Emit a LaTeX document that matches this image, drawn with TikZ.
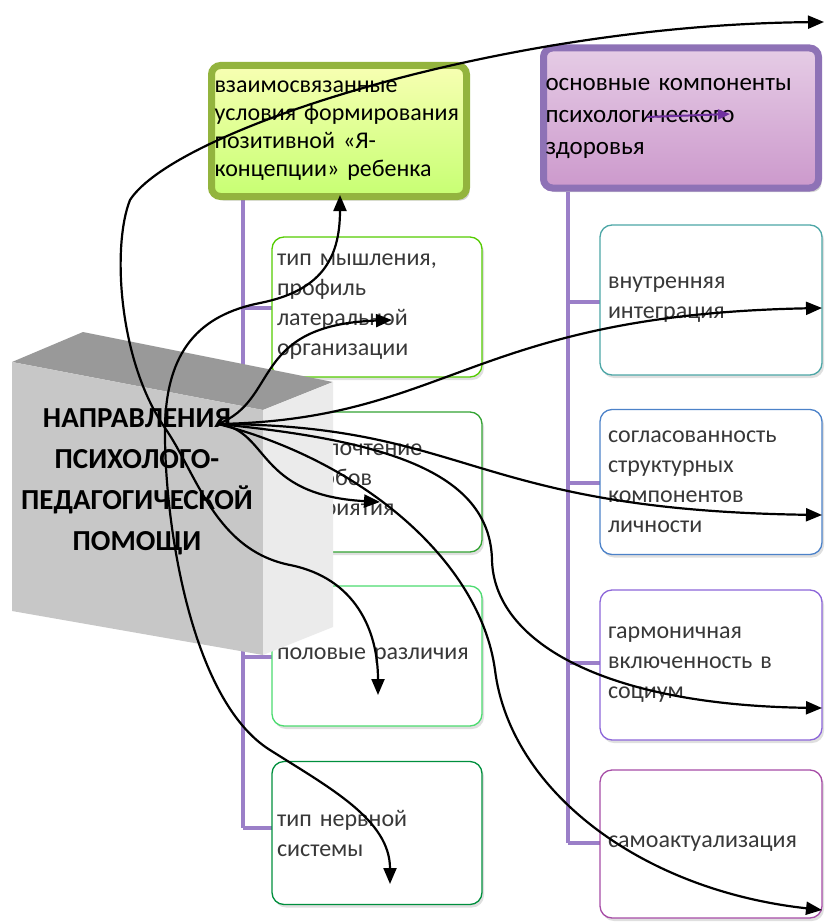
\documentclass[tikz,border=0pt]{standalone}
\usepackage{fontspec}
\setmainfont[WordSpace=0.6]{Carlito}
\usetikzlibrary{arrows.meta,shadows}

\definecolor{treeline}{HTML}{9B7FC8}
\definecolor{greenrim}{HTML}{93B43E}
\definecolor{purplerim}{HTML}{8E72B6}
\definecolor{darkarrow}{HTML}{7030A0}
\definecolor{itemtext}{HTML}{383838}

\begin{document}
\begin{tikzpicture}[x=1pt,y=-1pt,
    itembox/.style={draw=#1, rounded corners=12pt, fill=white, line width=1.3pt,
      minimum width=210pt, minimum height=140pt, text width=200pt, align=left,
      inner xsep=5pt, text=itemtext, font=\fontsize{24}{30}\selectfont,
      drop shadow={shadow xshift=2pt,shadow yshift=-3pt,opacity=.25}},
    headbox/.style={rounded corners=9pt, line width=7pt, align=left,
      drop shadow={shadow xshift=3pt,shadow yshift=-4pt,opacity=.35}},
    link/.style={line width=2.2pt, -{Triangle[length=16pt,width=13pt]}},
    tree/.style={treeline, line width=4pt}]
  \useasboundingbox (0,0) rectangle (825,923);

  % tree lines
  \draw[tree] (243,200) -- (243,828);
  \foreach \y in {308,485,657,828}
    \draw[tree] (243,\y) -- (272,\y);
  \draw[tree] (568,192) -- (568,843);
  \foreach \y in {302,483,663,843}
    \draw[tree] (568,\y) -- (600,\y);

  % headers
  \node[headbox, draw=greenrim, top color=green!10!yellow!30, bottom color=green!40!yellow!55,
    minimum width=255pt, minimum height=131pt, text width=249pt, inner xsep=3pt,
    font=\fontsize{24}{28}\selectfont] (cond) at (339,131)
    {взаимосвязанные\\условия формирования\\позитивной «Я-\\концепции» ребенка};
  \node[headbox, draw=purplerim, top color=violet!20, bottom color=violet!40,
    minimum width=275pt, minimum height=140pt, text width=271pt, inner xsep=2pt,
    font=\fontsize{25}{32}\selectfont] (health) at (681,118)
    {основные компоненты\\психологического\\здоровья};

  % left items
  \node[itembox=green!45!lime!80!black] (think) at (377,307)
    {тип мышления,\\профиль\\латеральной\\организации};
  \node[itembox=green!55!black!80] (perc) at (377,482)
    {предпочтение\\способов\\восприятия};
  \node[itembox=green!60!teal!70] (sex) at (377,656) {половые различия};
  \node[itembox=teal!60!green!80!black, minimum height=143pt] (nerv) at (377,833)
    {тип нервной\\системы};

  % right items
  \node[itembox=teal!70, minimum width=222pt, text width=206pt, inner xsep=8pt, minimum height=150pt] (integ) at (711,300)
    {внутренняя\\интеграция};
  \node[itembox=blue!40!teal!70, minimum width=222pt, text width=206pt, inner xsep=8pt, minimum height=145pt] (coher) at (711,482)
    {согласованность\\структурных\\компонентов\\личности};
  \node[itembox=blue!50!violet!60, minimum width=222pt, text width=206pt, inner xsep=8pt, minimum height=150pt] (social) at (711,665)
    {гармоничная\\включенность в\\социум};
  \node[itembox=violet!70, minimum width=222pt, text width=206pt, inner xsep=8pt, minimum height=148pt] (selfact) at (711,844)
    {самоактуализация};

  % gray block
  \fill[black!40] (12,362) -- (83,332) -- (333,382) -- (263,410) -- cycle;
  \fill[black!22] (12,362) -- (263,410) -- (263,655) -- (12,611) -- cycle;
  \fill[black!8] (263,410) -- (333,382) -- (333,627) -- (263,655) -- cycle;
  \node[align=center, font=\fontsize{29}{41}\selectfont\bfseries] (help) at (137,482)
    {НАПРАВЛЕНИЯ\\ПСИХОЛОГО-\\ПЕДАГОГИЧЕСКОЙ\\ПОМОЩИ};

  % arrow ends
  \coordinate (fan) at (218,424);
  \coordinate (hub) at (165,428);
  \coordinate (t-top) at (824,22);
  \coordinate (t-cond) at (340,195);
  \coordinate (t-think) at (392,320);
  \coordinate (t-perc) at (380,502);
  \coordinate (t-sex) at (378,695);
  \coordinate (t-nerv) at (390,884);
  \coordinate (t-integ) at (822,308);
  \coordinate (t-coher) at (822,515);
  \coordinate (t-social) at (822,708);
  \coordinate (t-self) at (822,910);

  \draw[link] (hub) .. controls (118,360) and (112,245) .. (130,200)
    .. controls (175,130) and (500,25) .. (t-top);
  \draw[link] (hub) .. controls (197,474) and (215,550) .. (290,565)
    .. controls (355,578) and (378,630) .. (t-sex);
  \draw[link] (hub) .. controls (166,350) and (200,315) .. (260,303)
    .. controls (320,291) and (340,260) .. (t-cond);
  \draw[link] (hub) .. controls (164,520) and (190,700) .. (270,750)
    .. controls (330,788) and (390,820) .. (t-nerv);

  \draw[link] (fan) .. controls (280,400) and (250,325) .. (t-think);
  \draw[link] (fan) .. controls (450,420) and (470,315) .. (t-integ);
  \draw[link] (fan) .. controls (270,430) and (255,495) .. (t-perc);
  \draw[link] (fan) .. controls (470,425) and (470,510) .. (t-coher);
  \draw[link] (fan) .. controls (380,440) and (490,470) .. (492,560)
    .. controls (494,640) and (600,705) .. (t-social);
  \draw[link] (fan) .. controls (360,460) and (480,560) .. (495,670)
    .. controls (510,790) and (640,890) .. (t-self);

  % small arrow in the header
  \coordinate (p-from) at (647,117);
  \coordinate (p-to) at (730,114);
  \draw[darkarrow, line width=2pt, -{Triangle[length=12pt,width=10pt]}] (p-from) -- (p-to);
\end{tikzpicture}
\end{document}
